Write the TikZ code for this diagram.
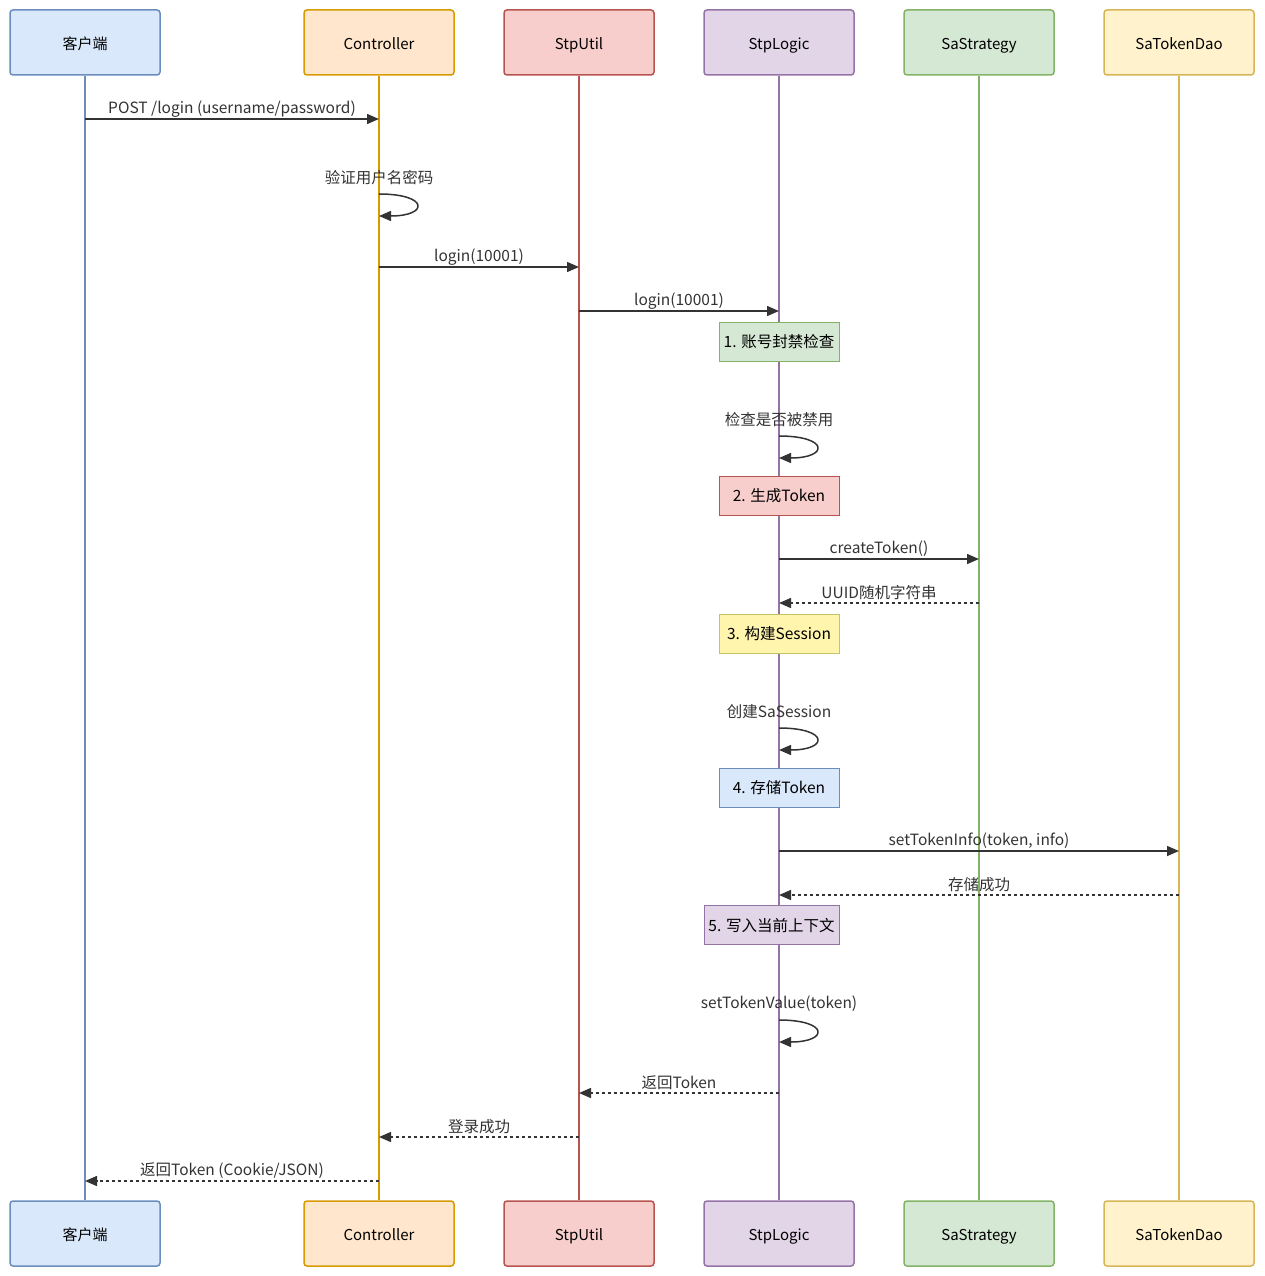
\documentclass[tikz,border=0pt]{standalone}
\usepackage{fontspec}
\setmainfont{Noto Sans CJK SC}
\usetikzlibrary{arrows.meta}

% participant colours
\definecolor{cliFill}{HTML}{DAE8FC}\definecolor{cliLine}{HTML}{6C8EBF}
\definecolor{ctlFill}{HTML}{FFE6CC}\definecolor{ctlLine}{HTML}{D79B00}
\definecolor{utlFill}{HTML}{F8CECC}\definecolor{utlLine}{HTML}{B85450}
\definecolor{lgcFill}{HTML}{E1D5E7}\definecolor{lgcLine}{HTML}{9673A6}
\definecolor{stgFill}{HTML}{D5E8D4}\definecolor{stgLine}{HTML}{82B366}
\definecolor{daoFill}{HTML}{FFF2CC}\definecolor{daoLine}{HTML}{D6B656}
\definecolor{memoFill}{HTML}{FFF5AD}\definecolor{memoLine}{HTML}{C3C36A}
\definecolor{ink}{HTML}{333333}

\tikzset{
  actor/.style={draw, rounded corners=3pt, line width=1.5pt, minimum width=150pt,
    minimum height=65pt, text height=14pt, text depth=0pt,
    font=\fontsize{15}{17}\selectfont, text=black},
  life/.style={line width=1.5pt},
  msg/.style={draw=ink, line width=1.5pt, -{Triangle[length=12pt,width=10pt]}},
  reply/.style={msg, dash pattern=on 3pt off 3pt},
  memo/.style={draw, line width=0.8pt, minimum height=39pt, minimum width=120pt,
    inner xsep=2pt, text height=12pt, text depth=0pt,
    font=\fontsize{15.5}{17}\selectfont, text=black},
  lbl/.style={inner sep=0pt, font=\fontsize{15.5}{17}\selectfont, text=ink},
}

\begin{document}
\begin{tikzpicture}[x=1pt, y=-1pt]
  \useasboundingbox (0,0) rectangle (1264,1276);

  % participants, top and bottom, with lifelines
  \foreach \id/\x/\txt in {cli/85/客户端, ctl/379/Controller, utl/579/StpUtil,
                           lgc/779/StpLogic, stg/979/SaStrategy, dao/1179/SaTokenDao} {
    \node[actor, draw=\id Line, fill=\id Fill] (\id T) at (\x,42.5) {\txt};
    \node[actor, draw=\id Line, fill=\id Fill] (\id B) at (\x,1233.5) {\txt};
    \draw[life, \id Line] (\id T.south) -- (\id B.north);
  }

  % notes on StpLogic
  \node[memo, draw=stgLine, fill=stgFill] (n1) at (779,341.5) {1. 账号封禁检查};
  \node[memo, draw=utlLine, fill=utlFill] (n2) at (779,495.5) {2. 生成Token};
  \node[memo, draw=memoLine, fill=memoFill] (n3) at (779,633.5) {3. 构建Session};
  \node[memo, draw=cliLine, fill=cliFill] (n4) at (779,787.5) {4. 存储Token};
  \node[memo, draw=lgcLine, fill=lgcFill, minimum width=135pt] (n5) at (771.5,925) {5. 写入当前上下文};

  % messages
  \draw[msg] (cliT |- 0,119) -- (ctlT |- 0,119)
    node[lbl, midway, yshift=10pt] (l1) {POST /login (username/password)};
  \node[lbl] (l2) at (ctlT |- 0,178) {验证用户名密码};
  \draw[msg] (ctlT |- 0,194) .. controls +(50,0) and +(50,0) .. (ctlT |- 0,216);
  \draw[msg] (ctlT |- 0,267) -- (utlT |- 0,267)
    node[lbl, midway, yshift=10pt] (l3) {login(10001)};
  \draw[msg] (utlT |- 0,311) -- (lgcT |- 0,311)
    node[lbl, midway, yshift=10pt] (l4) {login(10001)};
  \node[lbl] (l5) at (lgcT |- 0,420) {检查是否被禁用};
  \draw[msg] (lgcT |- 0,436) .. controls +(50,0) and +(50,0) .. (lgcT |- 0,458);
  \draw[msg] (lgcT |- 0,559) -- (stgT |- 0,559)
    node[lbl, midway, yshift=10pt] (l6) {createToken()};
  \draw[reply] (stgT |- 0,603) -- (lgcT |- 0,603)
    node[lbl, midway, yshift=10pt] (l7) {UUID随机字符串};
  \node[lbl] (l8) at (lgcT |- 0,712) {创建SaSession};
  \draw[msg] (lgcT |- 0,728) .. controls +(50,0) and +(50,0) .. (lgcT |- 0,750);
  \draw[msg] (lgcT |- 0,851) -- (daoT |- 0,851)
    node[lbl, midway, yshift=10pt] (l9) {setTokenInfo(token, info)};
  \draw[reply] (daoT |- 0,895) -- (lgcT |- 0,895)
    node[lbl, midway, yshift=10pt] (l10) {存储成功};
  \node[lbl] (l11) at (lgcT |- 0,1004) {setTokenValue(token)};
  \draw[msg] (lgcT |- 0,1020) .. controls +(50,0) and +(50,0) .. (lgcT |- 0,1042);
  \draw[reply] (lgcT |- 0,1093) -- (utlT |- 0,1093)
    node[lbl, midway, yshift=10pt] (l12) {返回Token};
  \draw[reply] (utlT |- 0,1137) -- (ctlT |- 0,1137)
    node[lbl, midway, yshift=10pt] (l13) {登录成功};
  \draw[reply] (ctlT |- 0,1181) -- (cliT |- 0,1181)
    node[lbl, midway, yshift=10pt] (l14) {返回Token (Cookie/JSON)};
\end{tikzpicture}
\end{document}
